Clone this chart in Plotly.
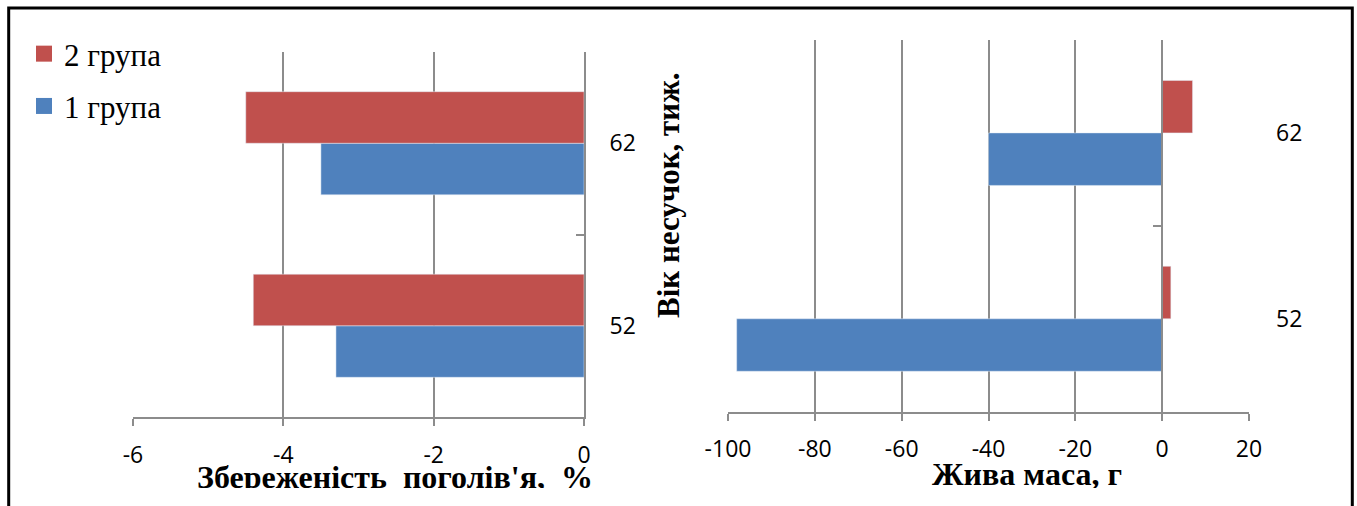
import plotly.graph_objects as go

W, H = 1357, 506

ages = ["52", "62"]
preservation_g1 = [-3.3, -3.5]
preservation_g2 = [-4.4, -4.5]
mass_g1 = [-98, -40]
mass_g2 = [2, 7]

x1_ticks = [-6, -4, -2, 0]
x1_labels = ["-6", "-4", "-2", "0"]
x2_ticks = [-100, -80, -60, -40, -20, 0, 20]
x2_labels = ["-100", "-80", "-60", "-40", "-20", "0", "20"]

blue = "#4F81BD"
red = "#C0504D"
grid = "#8C8C8C"
tickfont = dict(family="Open Sans", size=23, color="black")
titlefont = dict(family="Liberation Serif", size=32, color="black")

fig = go.Figure()
fig.add_trace(go.Bar(y=ages, x=preservation_g1, orientation="h", name="1 група",
                     marker_color=blue, xaxis="x", yaxis="y", showlegend=False))
fig.add_trace(go.Bar(y=ages, x=preservation_g2, orientation="h", name="2 група",
                     marker_color=red, xaxis="x", yaxis="y", showlegend=False))
fig.add_trace(go.Bar(y=ages, x=mass_g1, orientation="h", name="1 група",
                     marker_color=blue, xaxis="x2", yaxis="y2", showlegend=False))
fig.add_trace(go.Bar(y=ages, x=mass_g2, orientation="h", name="2 група",
                     marker_color=red, xaxis="x2", yaxis="y2", showlegend=False))
# legend entries (square swatches like the reference), 2 група listed first
for nm, col, grp, rank in [("2 група", red, "g2", 1), ("1 група", blue, "g1", 2)]:
    fig.add_trace(go.Scatter(x=[None], y=[None], mode="markers", name=nm, legendgroup=grp,
                             legendrank=rank,
                             marker=dict(symbol="square", size=16, color=col),
                             xaxis="x", yaxis="y", hoverinfo="skip"))
# empty trace to bind the zero-line axis of the right chart
fig.add_trace(go.Scatter(x=[], y=[], xaxis="x2", yaxis="y3", showlegend=False, hoverinfo="skip"))
# clipped axis titles (reference crops them at the bottom)
fig.add_trace(go.Scatter(x=[395, 1027], y=[480, 477], mode="text",
                         text=["<b>Збереженість  поголів'я,  %</b>", "<b>Жива маса, г</b>"],
                         textfont=titlefont, textposition="middle center",
                         cliponaxis=True, xaxis="x3", yaxis="y4",
                         showlegend=False, hoverinfo="skip"))

dom_x1 = [133 / W, 584 / W]
dom_y1 = [1 - 417 / H, 1 - 52 / H]
dom_x2 = [728 / W, 1249 / W]
dom_y2 = [1 - 411.7 / H, 1 - 40 / H]

common_x = dict(showgrid=True, gridcolor=grid, gridwidth=2, zeroline=False,
                showline=True, linecolor=grid, linewidth=2, ticks="outside",
                ticklen=7, tickwidth=2, tickcolor=grid, tickfont=tickfont,
                ticklabelstandoff=9, fixedrange=True)

fig.update_layout(
    width=W, height=H, autosize=False,
    margin=dict(l=0, r=0, t=0, b=0, autoexpand=False),
    paper_bgcolor="white", plot_bgcolor="rgba(0,0,0,0)",
    barmode="group", bargap=0.435, bargroupgap=0,
    showlegend=True,
    legend=dict(x=24 / W, y=1 - 27 / H, xanchor="left", yanchor="top",
                traceorder="grouped", tracegroupgap=9,
                font=dict(family="Liberation Serif", size=31, color="black"),
                bgcolor="rgba(0,0,0,0)"),
    xaxis=dict(domain=dom_x1, anchor="y", range=[-6, 0], tickvals=x1_ticks,
               ticktext=x1_labels, **common_x),
    yaxis=dict(domain=dom_y1, anchor="x", type="category", categoryarray=ages,
               range=[-0.5, 1.5], side="right", showgrid=False, showline=True,
               linecolor=grid, linewidth=2, ticks="inside", ticklen=8, tickwidth=2,
               tickcolor=grid, tickson="boundaries", tickfont=tickfont,
               ticklabelstandoff=19, fixedrange=True),
    xaxis2=dict(domain=dom_x2, anchor="y2", range=[-100, 20], tickvals=x2_ticks,
                ticktext=x2_labels, **common_x),
    yaxis2=dict(domain=dom_y2, anchor="x2", type="category", categoryarray=ages,
                range=[-0.5, 1.5], side="right", showgrid=False, showline=False,
                ticks="", tickfont=tickfont, ticklabelstandoff=26, fixedrange=True),
    yaxis3=dict(overlaying="y2", anchor="free",
                position=dom_x2[0] + (0 - (-100)) / 120 * (dom_x2[1] - dom_x2[0]),
                side="right", range=[0, 2], tickvals=[0, 1, 2], showticklabels=False,
                showgrid=False, zeroline=False, showline=True, linecolor=grid, linewidth=2,
                ticks="inside", ticklen=8, tickwidth=2, tickcolor=grid, fixedrange=True),
    xaxis3=dict(domain=[0, 1], anchor="y4", range=[0, W], visible=False, fixedrange=True),
    yaxis4=dict(domain=[1 - 488 / H, 1 - 440 / H], anchor="x3", range=[488, 440],
                visible=False, fixedrange=True),
    annotations=[dict(text="<b>Вік несучок, тиж.</b>", textangle=-90,
                      x=668 / W, y=1 - 196 / H, xref="paper", yref="paper",
                      showarrow=False, font=dict(family="Liberation Serif", size=31, color="black"))],
    shapes=[dict(type="rect", xref="paper", yref="paper",
                 x0=8.7 / W, x1=1352.3 / W, y0=-0.01, y1=1 - 8 / H,
                 line=dict(color="black", width=3), fillcolor="rgba(0,0,0,0)")],
)

css = ("var s=document.createElement('style');"
       "s.textContent='html,body{margin:0!important;padding:0!important;overflow:hidden!important;"
       "width:1357px;height:506px;}';"
       "document.head.appendChild(s);")

fig.write_html("out.html", config=dict(displayModeBar=False), post_script=css)
